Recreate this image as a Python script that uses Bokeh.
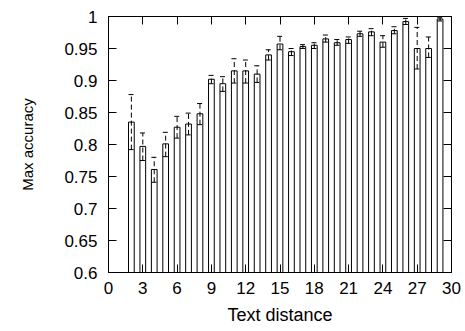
from bokeh.plotting import figure
from bokeh.models import FixedTicker, Range1d, LinearAxis
from bokeh.embed import file_html
from bokeh.resources import INLINE

# Data
distance = [2, 3, 4, 5, 6, 7, 8, 9, 10, 11, 12, 13, 14, 15,
            16, 17, 18, 19, 20, 21, 22, 23, 24, 25, 26, 27, 28, 29]
accuracy = [0.835, 0.797, 0.761, 0.801, 0.827, 0.832, 0.848, 0.902, 0.895, 0.915,
            0.915, 0.910, 0.940, 0.957, 0.945, 0.953, 0.955, 0.965, 0.959, 0.964,
            0.973, 0.976, 0.960, 0.978, 0.992, 0.950, 0.950, 0.996]
err_high = [0.878, 0.818, 0.780, 0.819, 0.844, 0.849, 0.864, 0.908, 0.906, 0.934,
            0.932, 0.923, 0.948, 0.969, 0.950, 0.956, 0.959, 0.971, 0.964, 0.968,
            0.977, 0.981, 0.970, 0.984, 0.997, 0.983, 0.968, 0.998]
err_low = [0.792, 0.775, 0.741, 0.781, 0.810, 0.815, 0.831, 0.895, 0.883, 0.896,
           0.896, 0.897, 0.932, 0.948, 0.939, 0.950, 0.950, 0.960, 0.955, 0.958,
           0.969, 0.970, 0.952, 0.973, 0.9875, 0.918, 0.936, 0.993]
x_ticks = [0, 3, 6, 9, 12, 15, 18, 21, 24, 27, 30]
y_ticks = [0.6, 0.65, 0.7, 0.75, 0.8, 0.85, 0.9, 0.95, 1.0]
y_tick_labels = ["0.6", "0.65", "0.7", "0.75", "0.8", "0.85", "0.9", "0.95", "1"]
x_title = "Text distance"
y_title = "Max accuracy"

X0, X1, Y0, Y1 = 0, 30, 0.6, 1.0
bar_width = 0.5
cap_half = 0.25
FONT = "Liberation Sans"
TICK_FS = "17px"
XLAB_FS = "18px"
YLAB_FS = "15px"
TICK_LEN = 8

p = figure(width=465, height=331, output_backend="svg", toolbar_location=None,
           x_range=Range1d(X0, X1), y_range=Range1d(Y0, Y1),
           min_border_left=108, min_border_right=14, min_border_top=16,
           min_border_bottom=59)
p.grid.visible = False
p.outline_line_color = "black"
p.outline_line_width = 1
p.background_fill_color = "white"
p.border_fill_color = "white"

p.vbar(x=distance, top=accuracy, bottom=Y0, width=bar_width,
       fill_color="white", line_color="black", line_width=1)

p.segment(x0=distance, y0=err_low, x1=distance, y1=err_high,
          line_color="black", line_width=1, line_dash="5 3")
p.segment(x0=[d - cap_half for d in distance], y0=err_high,
          x1=[d + cap_half for d in distance], y1=err_high,
          line_color="black", line_width=1, line_dash="5 2")
p.segment(x0=[d - cap_half for d in distance], y0=err_low,
          x1=[d + cap_half for d in distance], y1=err_low,
          line_color="black", line_width=1, line_dash="5 2")

def style(ax):
    ax.major_tick_in = TICK_LEN
    ax.major_tick_out = 0
    ax.minor_tick_line_color = None
    ax.axis_line_color = "black"
    ax.major_tick_line_color = "black"
    ax.major_label_text_font = FONT
    ax.major_label_text_font_size = TICK_FS
    ax.major_label_text_color = "black"
    ax.axis_label_text_font = FONT
    ax.axis_label_text_font_style = "normal"
    ax.axis_label_text_color = "black"

xa = p.xaxis[0]
xa.ticker = FixedTicker(ticks=x_ticks)
style(xa)
xa.major_label_standoff = 9
xa.axis_label = x_title
xa.axis_label_text_font_size = XLAB_FS
xa.axis_label_standoff = 8

ya = p.yaxis[0]
ya.ticker = FixedTicker(ticks=y_ticks)
ya.major_label_overrides = {t: l for t, l in zip(y_ticks, y_tick_labels)}
style(ya)
ya.major_label_standoff = 11
ya.axis_label = y_title
ya.axis_label_text_font_size = YLAB_FS
ya.axis_label_standoff = 25

# mirrored inward ticks on the top and right edges (no labels drawn)
for loc, ticks in (("above", x_ticks), ("right", y_ticks)):
    ax = LinearAxis(ticker=FixedTicker(ticks=ticks))
    style(ax)
    ax.major_label_text_color = None
    ax.major_label_text_font_size = "1px"
    ax.major_label_standoff = 0
    p.add_layout(ax, loc)

open("out.html", "w").write(file_html(p, INLINE))
